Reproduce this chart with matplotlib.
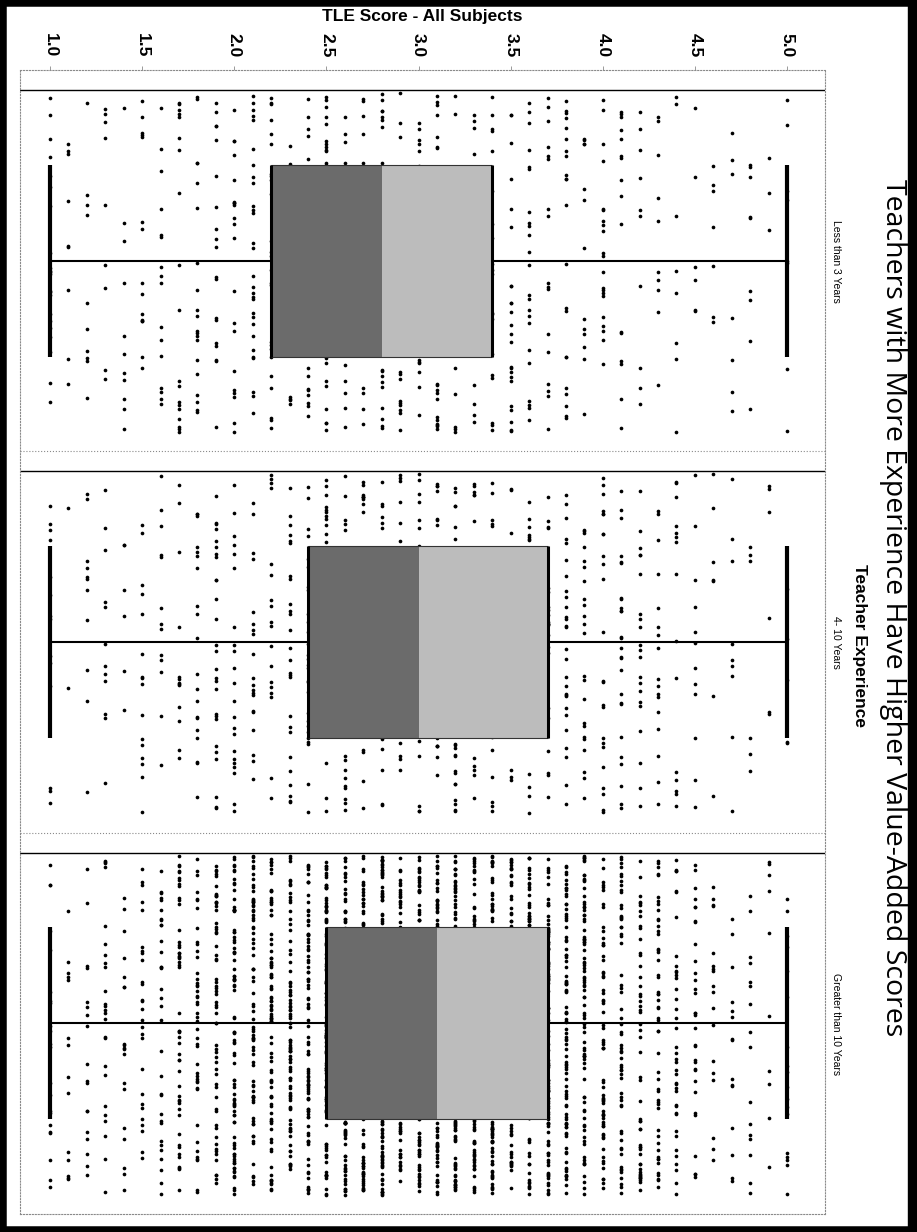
import matplotlib
matplotlib.use('Agg')
import matplotlib.pyplot as plt
from matplotlib.patches import Rectangle

# TLE score data, teachers grouped by experience
experience = ['Less than 3 Years', '4- 10 Years', 'Greater than 10 Years']

score_levels = [1.0, 1.1, 1.2, 1.3, 1.4, 1.5, 1.6, 1.7, 1.8, 1.9,
                2.0, 2.1, 2.2, 2.3, 2.4, 2.5, 2.6, 2.7, 2.8, 2.9,
                3.0, 3.1, 3.2, 3.3, 3.4, 3.5, 3.6, 3.7, 3.8, 3.9,
                4.0, 4.1, 4.2, 4.3, 4.4, 4.5, 4.6, 4.7, 4.8, 4.9, 5.0]

# number of teachers at each score level
counts_lt3 = [22, 9, 10, 9, 11, 15, 16, 19, 20, 19,
              21, 29, 25, 23, 27, 48, 27, 32, 32, 23,
              23, 36, 27, 25, 20, 24, 23, 17, 22, 13,
              21, 16, 10, 10, 8, 6, 7, 7, 9, 3, 8]
counts_4_10 = [14, 2, 11, 12, 6, 16, 13, 13, 20, 27,
               22, 20, 18, 26, 28, 34, 32, 32, 27, 27,
               25, 25, 30, 27, 25, 20, 25, 22, 28, 23,
               24, 26, 21, 17, 15, 12, 7, 9, 6, 6, 5]
counts_gt10 = [22, 14, 18, 25, 19, 27, 33, 50, 45, 60,
               85, 75, 85, 85, 90, 105, 110, 115, 120, 115,
               120, 115, 115, 110, 110, 105, 100, 95, 90, 85,
               65, 60, 52, 52, 40, 32, 18, 15, 16, 10, 18]

q1 = [2.2, 2.4, 2.5]
median = [2.8, 3.0, 3.1]
q3 = [3.4, 3.7, 3.7]
whisker_lo = [1.0, 1.0, 1.0]
whisker_hi = [5.0, 5.0, 5.0]

score_ticks = [1.0, 1.5, 2.0, 2.5, 3.0, 3.5, 4.0, 4.5, 5.0]
score_ticklabels = ['1.0', '1.5', '2.0', '2.5', '3.0', '3.5', '4.0', '4.5', '5.0']

W, H = 917, 1232
fig = plt.figure(figsize=(W / 100, H / 100), dpi=100)
ax = fig.add_axes([20 / W, 1 - 1214 / H, 805 / W, 1144 / H])
ax.set_xlim(0.837, 5.206)
ax.set_ylim(2.5, -0.5)

M32 = 0xffffffff


def mix(h):
    h &= M32
    h ^= h >> 16
    h = (h * 0x85ebca6b) & M32
    h ^= h >> 13
    h = (h * 0xc2b2ae35) & M32
    h ^= h >> 16
    return h


def spread(i, j, m):
    # deterministic scatter offset in [0, 1) for dot m of column j, pane i
    h = mix(mix(mix(i + 17) + j + 101) + m + 7)
    return h / 2 ** 32


# jittered dots
for i, counts in enumerate([counts_lt3, counts_4_10, counts_gt10]):
    xs, ys = [], []
    for j, (s, n) in enumerate(zip(score_levels, counts)):
        for m in range(n):
            xs.append(s)
            ys.append(i - 0.44 + 0.89 * spread(i, j, m))
    ax.scatter(xs, ys, s=7, marker='o', color='black', linewidths=0, zorder=2)

# two-tone boxes, whiskers and caps
half = 0.252
for i in range(3):
    ax.barh(i, median[i] - q1[i], left=q1[i], height=2 * half,
            color='#6b6b6b', edgecolor='none', zorder=3)
    ax.barh(i, q3[i] - median[i], left=median[i], height=2 * half,
            color='#bcbcbc', edgecolor='none', zorder=3)
    ax.hlines([i - half, i + half], q1[i], q3[i], colors='#333333', lw=0.8, zorder=4)
    ax.vlines([q1[i], q3[i]], i - half, i + half, colors='black', lw=2.2, zorder=4)
    ax.hlines(i, whisker_lo[i], q1[i], colors='black', lw=1.5, zorder=4)
    ax.hlines(i, q3[i], whisker_hi[i], colors='black', lw=1.5, zorder=4)
    ax.vlines([whisker_lo[i], whisker_hi[i]], i - half, i + half,
              colors='black', lw=3.0, zorder=4)
    # header line at top of each pane
    ax.axhline(i - 0.4475, color='black', lw=1.0, zorder=1)

# pane separators
for yb in [0.5, 1.5]:
    ax.axhline(yb, color='#8a8a8a', lw=0.8, ls=':', zorder=1)
for sp in ax.spines.values():
    sp.set_linestyle(':')
    sp.set_color('#8a8a8a')
    sp.set_linewidth(0.8)

ax.xaxis.tick_top()
ax.set_xticks(score_ticks)
ax.set_xticklabels(score_ticklabels, rotation=-90, fontsize=12.5,
                   fontweight='bold', family='Liberation Sans')
ax.tick_params(axis='x', length=3, width=0.6, color='#8a8a8a', pad=6)
ax.set_yticks([])

fig.text(422 / W, 1 - 17 / H, 'TLE Score - All Subjects', ha='center', va='center',
         fontsize=12.5, fontweight='bold', family='Liberation Sans')

for i, lab in enumerate(experience):
    yc = 1 - (261 + 381.3 * i) / H
    fig.text(836 / W, yc, lab, rotation=-90, ha='center', va='center',
             fontsize=7.5, family='Liberation Sans')

fig.text(859 / W, 1 - 646 / H, 'Teacher Experience', rotation=-90, ha='center',
         va='center', fontsize=12.5, fontweight='bold', family='Liberation Sans')

fig.text(893 / W, 1 - 608 / H,
         'Teachers with More Experience Have Higher Value-Added Scores',
         rotation=-90, ha='center', va='center', fontsize=20.5, family='Open Sans')

# scanned page frame
fig.patches.append(Rectangle((0, 0), 1, 1, transform=fig.transFigure, fill=False,
                             edgecolor='black', lw=9))
fig.patches.append(Rectangle((908 / W, 0), 9 / W, 1, transform=fig.transFigure,
                             color='black'))

fig.savefig('out.png', dpi=100)
